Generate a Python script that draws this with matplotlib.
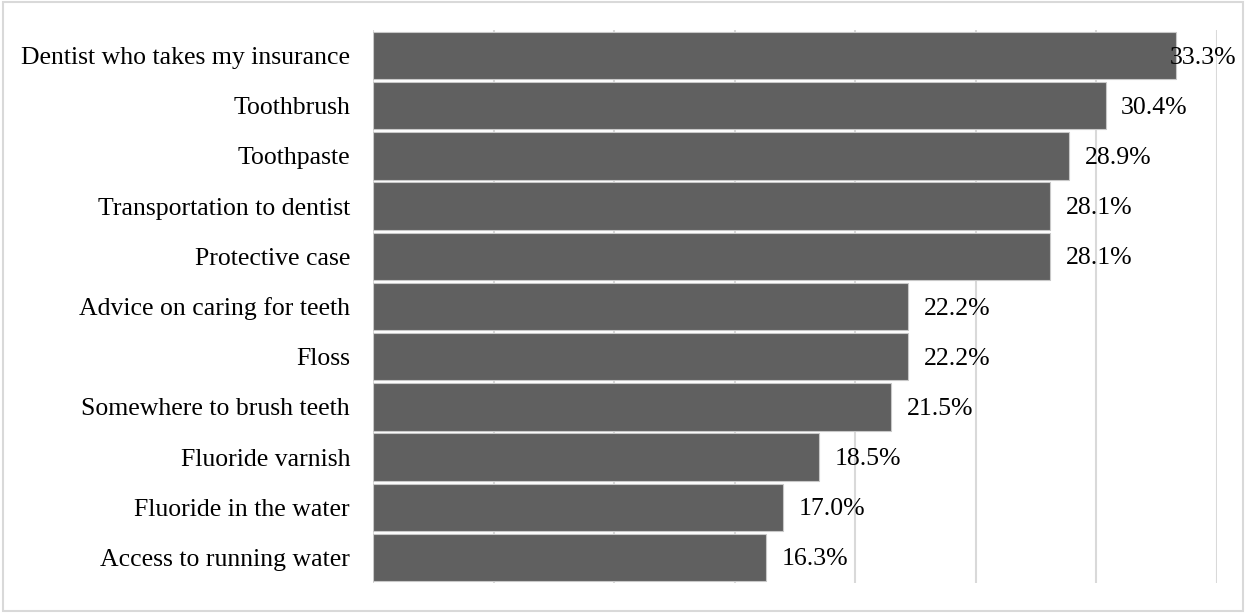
import matplotlib
matplotlib.use("Agg")
import matplotlib.pyplot as plt
from matplotlib.patches import Rectangle

plt.rcParams['font.family'] = ['Liberation Serif', 'DejaVu Serif']

categories = [
    "Dentist who takes my insurance",
    "Toothbrush",
    "Toothpaste",
    "Transportation to dentist",
    "Protective case",
    "Advice on caring for teeth",
    "Floss",
    "Somewhere to brush teeth",
    "Fluoride varnish",
    "Fluoride in the water",
    "Access to running water",
]
values = [33.3, 30.4, 28.9, 28.1, 28.1, 22.2, 22.2, 21.5, 18.5, 17.0, 16.3]
value_labels = [f"{v:.1f}%" for v in values]

W, H = 1246, 613
fig = plt.figure(figsize=(W / 100, H / 100), dpi=100)
FONT = ['Liberation Serif', 'DejaVu Serif']
FS = 18.5

ax = fig.add_axes([373 / W, (H - 583) / H, (1216.5 - 373) / W, (583 - 30) / H])
n = len(categories)
ypos = list(range(n))
ax.barh(ypos, values, height=0.945, color="#606060", edgecolor="#c8c8c8",
        linewidth=0.8, zorder=3)
ax.set_ylim(n - 0.5 + 0.01, -0.5 - 0.01)
ax.set_xlim(0, 35)
ax.set_xticks([0, 5, 10, 15, 20, 25, 30, 35])
ax.set_axisbelow(True)
ax.grid(axis="x", color="#d9d9d9", linewidth=1.5, zorder=0)
ax.tick_params(axis="x", length=0, labelbottom=False)
ax.tick_params(axis="y", length=0, pad=16.5)
ax.set_yticks(ypos)
ax.set_yticklabels(categories, fontfamily=FONT, fontsize=FS)
for s in ax.spines.values():
    s.set_visible(False)

# value labels: offset right of bar end, pushed back inside the chart near the right edge
px_per_unit = (1216.5 - 373) / 35
limit_val = (1170 - 373) / px_per_unit
for y, v, t in zip(ypos, values, value_labels):
    x = min(v + 15.5 / px_per_unit, limit_val)
    ax.text(x, y + 0.04, t, va="center", ha="left", fontsize=FS, fontfamily=FONT,
            color="black", zorder=4)

# outer chart border
fig.patches.append(Rectangle((3 / W, 2 / H), (1243 - 3) / W, (611 - 2) / H,
                             transform=fig.transFigure, fill=False,
                             edgecolor="#d9d9d9", linewidth=1.5))

fig.savefig("out.png", dpi=100)
